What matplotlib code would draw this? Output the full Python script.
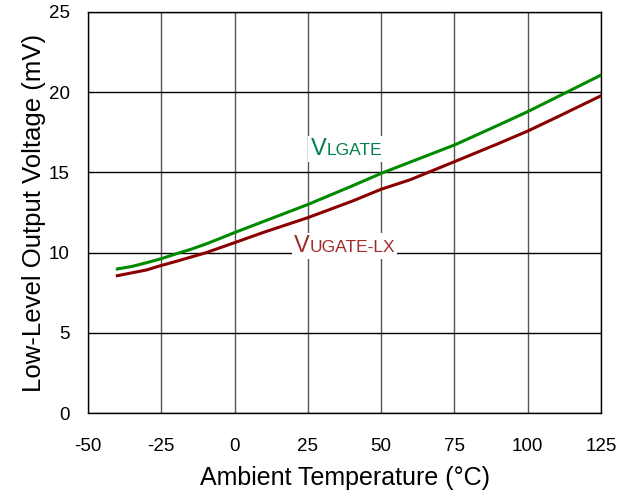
import matplotlib

matplotlib.use("Agg")
import matplotlib.pyplot as plt  # noqa: E402
from matplotlib.offsetbox import AnnotationBbox, HPacker, TextArea  # noqa: E402

plt.rcParams["font.family"] = ["Liberation Sans", "DejaVu Sans"]
plt.rcParams["axes.unicode_minus"] = False

# data
temp_lgate = [-40, -35, -30, -25, -20, -15, -10, -5, 0, 10, 25, 40, 50, 60, 75, 90, 100, 110, 125]
v_lgate = [8.98, 9.14, 9.37, 9.62, 9.92, 10.2, 10.52, 10.88, 11.25, 11.95, 13.0, 14.15,
           14.94, 15.65, 16.71, 17.95, 18.79, 19.7, 21.07]
temp_ugate = [-40, -30, -25, -20, -10, 0, 10, 25, 40, 50, 60, 75, 90, 100, 110, 125]
v_ugate = [8.56, 8.92, 9.2, 9.45, 9.98, 10.62, 11.27, 12.18, 13.2, 13.95, 14.55,
           15.67, 16.8, 17.58, 18.45, 19.78]
x_ticks = [-50, -25, 0, 25, 50, 75, 100, 125]
y_ticks = [0, 5, 10, 15, 20, 25]

fig = plt.figure(figsize=(6.35, 5), dpi=100)
ax = fig.add_axes([0.1386, 0.174, 0.808, 0.802])

ax.plot(temp_lgate, v_lgate, color="#008a00", lw=2.2, zorder=3)
ax.plot(temp_ugate, v_ugate, color="#8b0000", lw=2.2, zorder=3)

ax.set_xlim(-50, 125)
ax.set_ylim(0, 25)
ax.set_xticks(x_ticks)
ax.set_yticks(y_ticks)
ax.tick_params(length=0, labelsize=13.5)
ax.tick_params(axis="y", pad=13)
ax.tick_params(axis="x", pad=18)
for x in x_ticks:
    ax.axvline(x, color="#555555", lw=1, zorder=1)
for y in y_ticks:
    ax.axhline(y, color="black", lw=1, zorder=1)
for s in ax.spines.values():
    s.set_color("black")
    s.set_linewidth(1)

ax.set_xlabel("Ambient Temperature (°C)", fontsize=18, labelpad=8)
ax.set_ylabel("Low-Level Output Voltage (mV)", fontsize=18.5, labelpad=2)


def sub_label(main, sub, color, xy):
    box = HPacker(
        children=[
            TextArea(main, textprops=dict(color=color, fontsize=17)),
            TextArea(sub, textprops=dict(color=color, fontsize=12.5)),
        ],
        align="baseline",
        pad=0,
        sep=0,
    )
    ab = AnnotationBbox(box, xy, xycoords="data", box_alignment=(0, 0),
                        frameon=True, pad=0.15,
                        bboxprops=dict(facecolor="white", edgecolor="none"))
    ab.set_zorder(4)
    ax.add_artist(ab)


sub_label("V", "LGATE", "#00804a", (25.9, 15.75))
sub_label("V", "UGATE-LX", "#a02a2a", (20.2, 9.75))

fig.savefig("out.png", dpi=100)
plt.close(fig)
